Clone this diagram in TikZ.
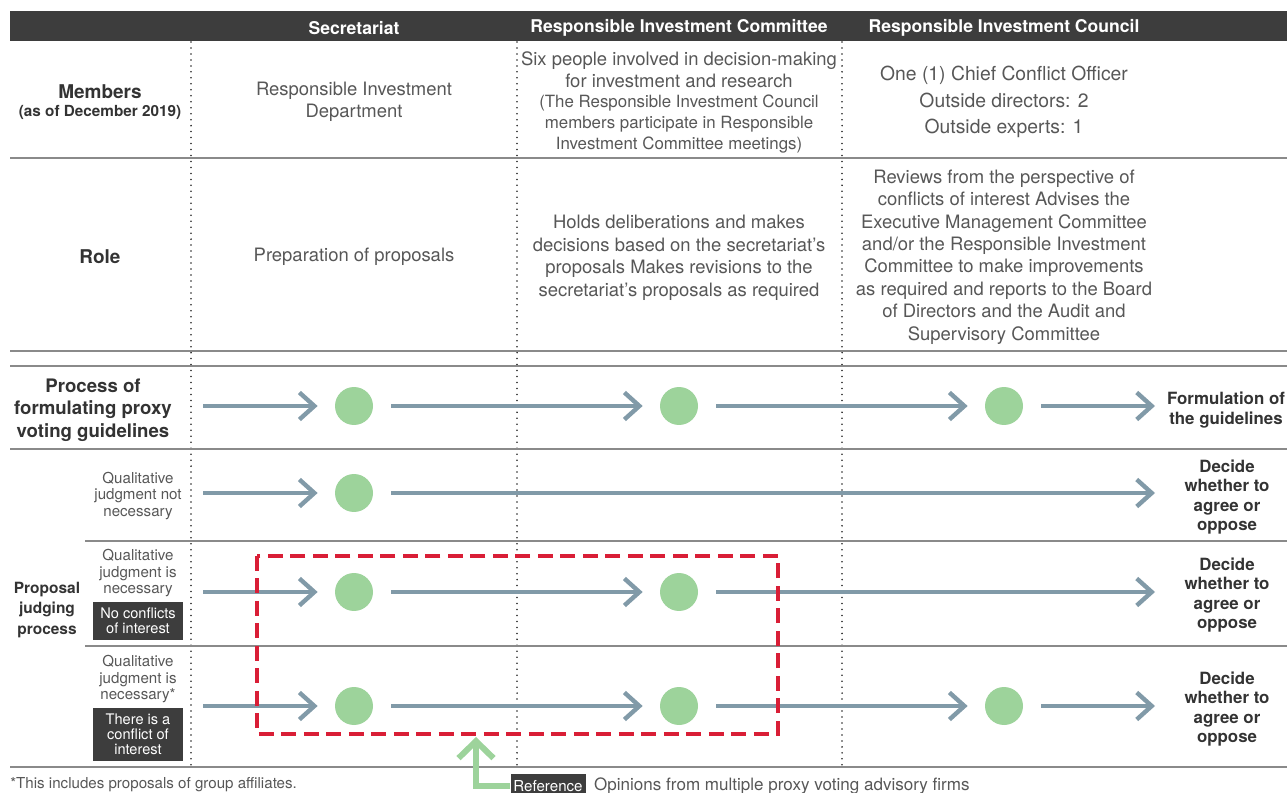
\documentclass[tikz,border=0pt]{standalone}
\usepackage{fontspec}
\setmainfont{TeX Gyre Heros}
\usetikzlibrary{arrows.meta,positioning}

\definecolor{banddark}{HTML}{3D3D3D}
\definecolor{flowgray}{HTML}{819AA8}
\definecolor{stagegreen}{HTML}{9DD39B}
\definecolor{redline}{HTML}{D91E36}
\definecolor{bodygray}{HTML}{575757}
\definecolor{labelgray}{HTML}{333333}
\definecolor{rulegray}{HTML}{8A8A8A}

\begin{document}
\begin{tikzpicture}[x=0.02cm, y=-0.02cm,
    stage/.style = {circle, fill=stagegreen, minimum size=0.76cm, inner sep=0pt},
    flow/.style = {draw=flowgray, line width=2.5pt, -{Straight Barb[length=0.3cm, width=0.54cm]}},
    refarrow/.style = {draw=stagegreen, line width=3.4pt, -{Straight Barb[length=0.34cm, width=0.7cm]}},
    rowline/.style = {draw=rulegray, line width=0.9pt},
    colline/.style = {draw=black!85, line width=1pt, line cap=round, dash pattern=on 0pt off 3.4pt},
    redbox/.style = {draw=redline, line width=2.2pt, dash pattern=on 0.3cm off 0.15cm},
    colhead/.style = {text=white, font=\fontsize{10}{12}\selectfont\bfseries},
    body/.style = {text=bodygray, align=center, font=\fontsize{10.5}{12.8}\selectfont},
    note/.style = {text=bodygray, align=center, font=\fontsize{8.6}{9.6}\selectfont},
    rowlabel/.style = {text=labelgray, align=center, font=\fontsize{10.8}{12.7}\selectfont\bfseries},
    outcome/.style = {text=labelgray, align=center, font=\fontsize{9.6}{11}\selectfont\bfseries},
    tagbox/.style = {fill=banddark, text=white, align=center, inner sep=0pt, minimum width=1.82cm, font=\fontsize{8.3}{8.6}\selectfont}
  ]
  \useasboundingbox (0,0) rectangle (1287,793);

  % header band and grid
  \fill[banddark] (10,11) rectangle (1287,41);
  \node[colhead] (sec) at (354,28) {Secretariat};
  \node[colhead] (com) at (679,28) {Responsible Investment Committee};
  \node[colhead] (cou) at (1004,28) {Responsible Investment Council};

  \foreach \x in {191,517,842}
    \draw[colline] (\x,42) -- (\x,767);
  \foreach \y in {158,351,366,449,767}
    \draw[rowline] (10,\y) -- (1287,\y);
  \foreach \y in {541,646}
    \draw[rowline] (85,\y) -- (1287,\y);

  % members
  \node[rowlabel] (members) at (100,92) {Members};
  \node[rowlabel, font=\fontsize{8.7}{10}\selectfont\bfseries] (asof) at (100,112) {(as of December 2019)};
  \node[body] (secmem) at (354,102) {Responsible Investment\\Department};
  \node[body] (commem) at (679,70) {Six people involved in decision-making\\for investment and research};
  \node[body, font=\fontsize{9.6}{11.9}\selectfont] (comnote) at (679,124) {(The Responsible Investment Council\\members participate in Responsible\\Investment Committee meetings)};
  \node[body, font=\fontsize{11}{15}\selectfont] (coumem) at (1004,102) {One (1) Chief Conflict Officer\\Outside directors: 2\\Outside experts: 1};

  % role
  \node[rowlabel] (role) at (100,257) {Role};
  \node[body] (secrole) at (354,257) {Preparation of proposals};
  \node[body] (comrole) at (679,258) {Holds deliberations and makes\\decisions based on the secretariat's\\proposals Makes revisions to the\\secretariat's proposals as required};
  \node[body] (courole) at (1004,257) {Reviews from the perspective of\\conflicts of interest Advises the\\Executive Management Committee\\and/or the Responsible Investment\\Committee to make improvements\\as required and reports to the Board\\of Directors and the Audit and\\Supervisory Committee};

  % left labels
  \node[rowlabel, font=\fontsize{10.6}{12.8}\selectfont\bfseries] (proc) at (93,410) {Process of\\formulating proxy\\voting guidelines};
  \node[rowlabel, font=\fontsize{8.8}{11.9}\selectfont\bfseries] (judge) at (47,610) {Proposal\\judging\\process};
  \node[note] (qa) at (138,496) {Qualitative\\judgment not\\necessary};
  \node[note] (qb) at (138,573) {Qualitative\\judgment is\\necessary};
  \node[tagbox, minimum height=0.76cm] (tb) at (138,621) {No conflicts\\of interest};
  \node[note] (qc) at (138,679) {Qualitative\\judgment is\\necessary*};
  \node[tagbox, minimum height=1.06cm] (tc) at (138,734.5) {There is a\\conflict of\\interest};

  % outcomes
  \node[outcome] (op) at (1226,410) {Formulation of\\the guidelines};
  \node[outcome] (oq) at (1227,497) {Decide\\whether to\\agree or\\oppose};
  \node[outcome] (or) at (1227,595) {Decide\\whether to\\agree or\\oppose};
  \node[outcome] (os) at (1227,709) {Decide\\whether to\\agree or\\oppose};

  % flows
  \coordinate (p0) at (203,406);
  \node[stage] (p1) at (354,406) {};
  \node[stage] (p2) at (679,406) {};
  \node[stage] (p3) at (1004,406) {};
  \coordinate (p4) at (1155,406);
  \draw[flow, shorten >=0.34cm] (p0) -- (p1);
  \draw[flow, shorten >=0.34cm, shorten <=0.36cm] (p1) -- (p2);
  \draw[flow, shorten >=0.34cm, shorten <=0.36cm] (p2) -- (p3);
  \draw[flow, shorten <=0.36cm] (p3) -- (p4);

  \coordinate (q0) at (203,493);
  \node[stage] (q1) at (354,493) {};
  \coordinate (q2) at (1155,493);
  \draw[flow, shorten >=0.34cm] (q0) -- (q1);
  \draw[flow, shorten <=0.36cm] (q1) -- (q2);

  \coordinate (r0) at (203,592);
  \node[stage] (r1) at (354,592) {};
  \node[stage] (r2) at (679,592) {};
  \coordinate (r3) at (1155,592);
  \draw[flow, shorten >=0.34cm] (r0) -- (r1);
  \draw[flow, shorten >=0.34cm, shorten <=0.36cm] (r1) -- (r2);
  \draw[flow, shorten <=0.36cm] (r2) -- (r3);

  \coordinate (s0) at (203,706);
  \node[stage] (s1) at (354,706) {};
  \node[stage] (s2) at (679,706) {};
  \node[stage] (s3) at (1004,706) {};
  \coordinate (s4) at (1155,706);
  \draw[flow, shorten >=0.34cm] (s0) -- (s1);
  \draw[flow, shorten >=0.34cm, shorten <=0.36cm] (s1) -- (s2);
  \draw[flow, shorten >=0.34cm, shorten <=0.36cm] (s2) -- (s3);
  \draw[flow, shorten <=0.36cm] (s3) -- (s4);

  \draw[redbox] (257,556) rectangle (778,734);

  % reference
  \node[tagbox, minimum width=1.5cm, minimum height=0.48cm, font=\fontsize{8.6}{10}\selectfont] (ref) at (548,786) {Reference};
  \node[body, font=\fontsize{9.7}{11}\selectfont, inner sep=0pt, right=0.16cm of ref] (opin) {Opinions from multiple proxy voting advisory firms};
  \coordinate (reftip) at (476,737);
  \draw[refarrow] (ref.west) -| (reftip);

  \node[note, anchor=west, inner sep=0pt] (foot) at (10,785) {*This includes proposals of group affiliates.};
\end{tikzpicture}
\end{document}
